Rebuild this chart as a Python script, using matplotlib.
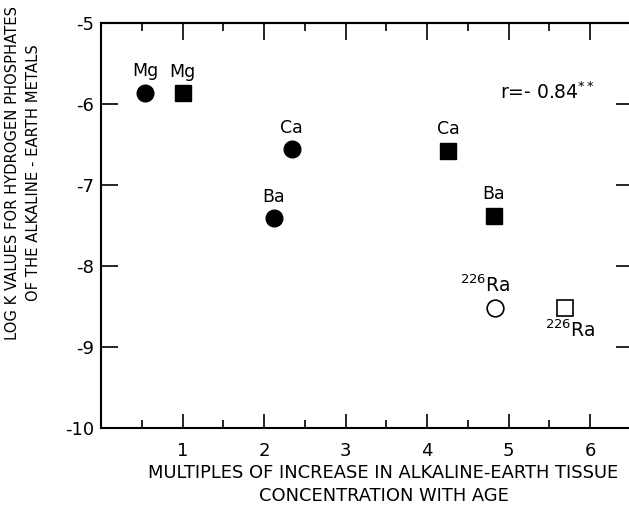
import matplotlib
matplotlib.use('Agg')
import matplotlib.pyplot as plt

plt.rcParams['font.family'] = ['DejaVu Sans']
plt.rcParams['axes.unicode_minus'] = False

# filled circles and filled squares
circle_x = [0.54, 2.34, 2.12]
circle_y = [-5.86, -6.56, -7.41]
circle_lab = ['Mg', 'Ca', 'Ba']
square_x = [1.0, 4.26, 4.82]
square_y = [-5.87, -6.58, -7.38]
square_lab = ['Mg', 'Ca', 'Ba']
# radium, open symbols
ra_circle = (4.83, -8.52)
ra_square = (5.69, -8.52)

xticks = [1, 2, 3, 4, 5, 6]
xminor = [0.5, 1.5, 2.5, 3.5, 4.5, 5.5]
yticks = [-10, -9, -8, -7, -6, -5]

fig = plt.figure(figsize=(6.29, 5.14), dpi=100)
ax = fig.add_axes([0.1606, 0.1673, 0.8424, 0.788])

ax.plot(circle_x, circle_y, 'o', color='black', ms=12)
ax.plot(square_x, square_y, 's', color='black', ms=11.5)
ax.plot(*ra_circle, 'o', mfc='white', mec='black', mew=1.2, ms=12)
ax.plot(*ra_square, 's', mfc='white', mec='black', mew=1.2, ms=11.5)

for x, y, s in zip(circle_x, circle_y, circle_lab):
    ax.annotate(s, (x, y), xytext=(0, 9), textcoords='offset points',
                ha='center', va='bottom', fontsize=12.5)
for x, y, s in zip(square_x, square_y, square_lab):
    ax.annotate(s, (x, y), xytext=(0, 9), textcoords='offset points',
                ha='center', va='bottom', fontsize=12.5)
ax.annotate(r'$\mathregular{^{226}Ra}$', ra_circle, xytext=(-7, 9),
            textcoords='offset points', ha='center', va='bottom', fontsize=13.5)
ax.annotate(r'$\mathregular{^{226}Ra}$', ra_square, xytext=(4, -8),
            textcoords='offset points', ha='center', va='top', fontsize=13.5)

ax.text(4.9, -5.99, r'r=- 0.84$\mathregular{^{**}}$', fontsize=13.5, va='bottom')

ax.set_xlim(0, 6.5)
ax.set_ylim(-10, -5)
ax.set_xticks(xticks)
ax.set_xticks(xminor, minor=True)
ax.set_yticks(yticks)
ax.set_yticklabels([str(t) for t in yticks])
ax.tick_params(axis='x', which='major', direction='in', length=10, width=1.2,
               pad=10, labelsize=13)
ax.tick_params(axis='x', which='minor', direction='in', length=6, width=1.2)
ax.tick_params(axis='y', which='major', direction='in', length=12, width=1.2,
               pad=5, labelsize=13)
for sp in ax.spines.values():
    sp.set_linewidth(1.5)

top = ax.secondary_xaxis('top')
top.set_xticks(xticks)
top.set_xticks(xminor, minor=True)
top.tick_params(which='major', direction='in', length=12, width=1.2, labeltop=False)
top.tick_params(which='minor', direction='in', length=6, width=1.2)
top.spines['top'].set_linewidth(1.5)

right = ax.secondary_yaxis('right')
right.set_yticks(yticks)
right.tick_params(direction='in', length=11, width=1.2, labelright=False)

ax.set_xlabel('MULTIPLES OF INCREASE IN ALKALINE-EARTH TISSUE\nCONCENTRATION WITH AGE',
              fontsize=12.9, linespacing=1.35)
ax.xaxis.set_label_coords(0.533, -0.09, transform=ax.transAxes)
ax.xaxis.label.set_va('top')
ax.set_ylabel('LOG K VALUES FOR HYDROGEN PHOSPHATES\nOF THE ALKALINE - EARTH METALS',
              fontsize=10.6, linespacing=1.45)
ax.yaxis.set_label_coords(-0.147, 0.63)
ax.yaxis.label.set_va('center')

fig.savefig('out.png', dpi=100)
